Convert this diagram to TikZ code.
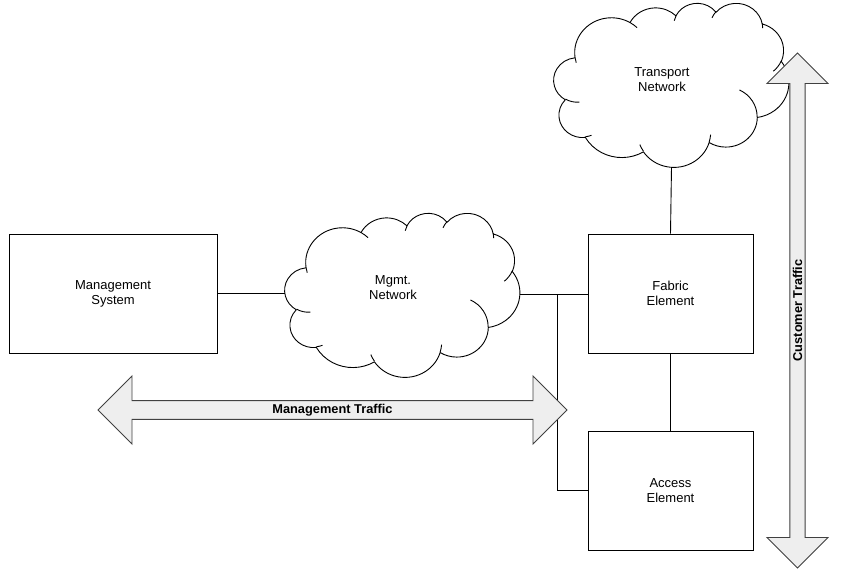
\documentclass[tikz,border=0pt]{standalone}
\usepackage{fontspec}
\setmainfont{Liberation Sans}
\usetikzlibrary{shapes.arrows}
\definecolor{arrowfill}{RGB}{238,238,238}
\definecolor{arrowline}{RGB}{64,64,64}
\newcommand\mycloudshape[1]{%
\begin{scope}[shift={(#1.north west)}, xscale=235/43.2, yscale=164/43.2]
\filldraw[cloudline, fill=white] (3.900,14.370)
 arc[start angle=-187.746, delta angle=128.103, x radius=6.753, y radius=9.190]
 arc[start angle=-152.046, delta angle=106.615, x radius=5.333, y radius=7.267]
 arc[start angle=-153.482, delta angle=116.143, x radius=4.365, y radius=5.945]
 arc[start angle=-139.703, delta angle=129.493, x radius=4.857, y radius=6.595]
 arc[start angle=-74.767, delta angle=97.974, x radius=5.333, y radius=7.273]
 arc[start angle=-37.533, delta angle=119.396, x radius=6.775, y radius=9.220]
 arc[start angle=0.460, delta angle=121.520, x radius=5.785, y radius=7.867]
 arc[start angle=16.845, delta angle=129.413, x radius=6.752, y radius=9.215]
 arc[start angle=58.998, delta angle=91.200, x radius=7.720, y radius=10.543]
 arc[start angle=-276.694, delta angle=139.813, x radius=4.360, y radius=5.918]
 arc[start angle=-239.643, delta angle=143.755, x radius=4.345, y radius=5.945]
 -- cycle;
\draw[cloudline] (4.693,26.177) arc[start angle=85.547, delta angle=34.810, x radius=4.345, y radius=5.945]
 (6.928,34.899) arc[start angle=68.238, delta angle=15.068, x radius=4.360, y radius=5.918]
 (16.478,39.090) arc[start angle=146.258, delta angle=12.216, x radius=6.752, y radius=9.215]
 (28.827,34.751) arc[start angle=4.738, delta angle=12.107, x radius=6.752, y radius=9.215]
 (34.129,22.954) arc[start angle=-64.026, delta angle=64.486, x radius=5.785, y radius=7.867]
 (41.798,15.354) arc[start angle=23.207, delta angle=26.440, x radius=5.333, y radius=7.273]
 (38.324,5.426) arc[start angle=-10.210, delta angle=11.031, x radius=4.857, y radius=6.595]
 (29.078,3.952) arc[start angle=-156.284, delta angle=16.581, x radius=4.857, y radius=6.595]
 (22.141,4.720) arc[start angle=-167.727, delta angle=14.245, x radius=4.365, y radius=5.945]
 (14.000,5.192) arc[start angle=-59.643, delta angle=13.896, x radius=6.753, y radius=9.190]
 (4.127,15.789) arc[start angle=163.195, delta angle=9.059, x radius=6.753, y radius=9.190];
\end{scope}}
\tikzset{
  cloudline/.style={draw=black, line width=0.9pt},
  conn/.style={draw=black, line width=0.9pt},
  boxnode/.style={draw=black, line width=0.9pt, fill=white, rectangle, inner sep=0pt,
    minimum height=119pt, align=center, font=\fontsize{13}{15}\selectfont},
  cloudbox/.style={rectangle, inner sep=0pt, minimum width=235pt, minimum height=164pt},
  cloudtext/.style={align=center, font=\fontsize{13}{15}\selectfont},
  trafficarrow/.style={double arrow, double arrow tip angle=90, double arrow head indent=0pt,
    draw=arrowline, fill=arrowfill, line width=0.9pt, inner sep=0pt,
    font=\bfseries\fontsize{12.8}{15}\selectfont}
}
\begin{document}
\begin{tikzpicture}[x=1pt, y=-1pt]
\useasboundingbox (0,0) rectangle (844,584);
% clouds
\node[cloudbox] (transport) at (671.5,85) {};
\mycloudshape{transport}
\node[cloudtext] (transporttext) at (662,80) {Transport\\Network};
\node[cloudbox] (mgmtnet) at (402.5,295) {};
\mycloudshape{mgmtnet}
\node[cloudtext] (mgmtnettext) at (393,288) {Mgmt.\\Network};
% boxes
\node[boxnode, minimum width=208pt] (mgmtsys) at (113,293.5) {Management\\System};
\node[boxnode, minimum width=165pt] (fabric) at (670.5,293.5) {Fabric\\Element};
\node[boxnode, minimum width=165pt] (access) at (670.5,490.5) {Access\\Element};
% connectors
\coordinate (junction) at (557,294);
\draw[conn] (mgmtsys.east) -- (mgmtsys.east -| mgmtnet.west);
\draw[conn] (mgmtnet.east |- junction) -- (junction -| fabric.west);
\draw[conn] (junction) |- (access.west);
\draw[conn] (transport.south) -- (fabric.north);
\draw[conn] (fabric.south) -- (access.north);
% traffic arrows
\node[trafficarrow, double arrow head extend=17pt, minimum height=469pt, minimum width=68pt]
  (mgmttraffic) at (332.5,410) {Management Traffic};
\node[trafficarrow, rotate=90, double arrow head extend=15.5pt, minimum height=515pt, minimum width=61pt]
  (custtraffic) at (797.5,310.5) {Customer Traffic};
\end{tikzpicture}
\end{document}
